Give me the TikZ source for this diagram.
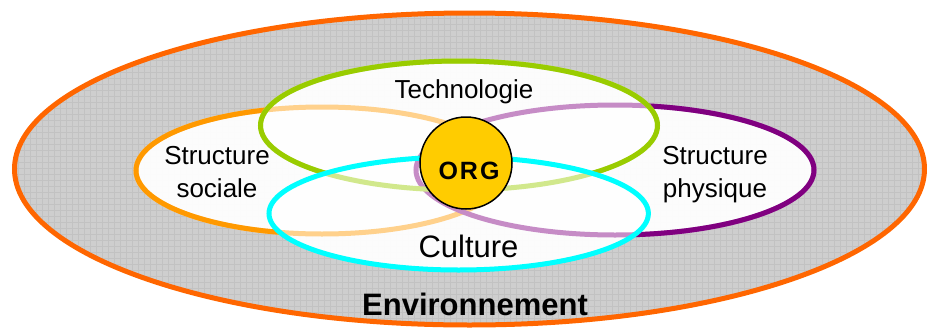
\documentclass[tikz,border=0pt]{standalone}
\usepackage{fontspec}
\setmainfont{Liberation Sans}
\definecolor{envorange}{RGB}{255,102,0}
\definecolor{socorange}{RGB}{255,153,0}
\definecolor{techgreen}{RGB}{153,204,0}
\definecolor{cultcyan}{RGB}{0,255,255}
\definecolor{physpurple}{RGB}{128,0,128}
\definecolor{orgyellow}{RGB}{255,204,0}
\definecolor{envgray}{RGB}{206,206,206}
\definecolor{gridgray}{RGB}{194,194,194}
\def\EnvE{(469.5,169) ellipse [x radius=455pt, y radius=156pt]}
\def\SocE{(322,170.5) ellipse [x radius=186pt, y radius=63.5pt]}
\def\PhyE{(615,170) ellipse [x radius=199pt, y radius=65pt]}
\def\TecE{(459,125.5) ellipse [x radius=198.5pt, y radius=64.5pt]}
\def\CulE{(458.7,213.5) ellipse [x radius=189.7pt, y radius=56.5pt]}
\def\BigRect{(-20,-20) rectangle (960,360)}
\tikzset{
  ring/.style={line width=5pt},
  innerfill/.style={fill=white, fill opacity=0.95},
  lbl/.style={font=\fontsize{26}{33}\selectfont, anchor=base, inner sep=0pt, align=center}
}
\begin{document}
\begin{tikzpicture}[x=1pt,y=-1pt]
\useasboundingbox (0,0) rectangle (927,327);
% environment
\fill[envgray] \EnvE;
\begin{scope}
  \clip \EnvE;
  \draw[gridgray, line width=0.5pt, step=6pt] (0,0) grid (930,330);
\end{scope}
\draw[envorange, ring] \EnvE;
% inner white fills
\fill[innerfill] \SocE;
\fill[innerfill] \PhyE;
\fill[innerfill] \TecE;
\fill[innerfill] \CulE;
% sociale line
\draw[ring, socorange!45!white] \SocE;
\begin{scope}[even odd rule]
  \clip \BigRect \PhyE;
  \clip \BigRect \TecE;
  \clip \BigRect \CulE;
  \draw[ring, socorange] \SocE;
\end{scope}
% physique line
\draw[ring, physpurple!45!white] \PhyE;
\begin{scope}[even odd rule]
  \clip \BigRect \TecE;
  \clip \BigRect \CulE;
  \draw[ring, physpurple] \PhyE;
\end{scope}
% technologie line
\draw[ring, techgreen!45!white] \TecE;
\begin{scope}[even odd rule]
  \clip \BigRect \CulE;
  \draw[ring, techgreen] \TecE;
\end{scope}
% culture line
\draw[ring, cultcyan] \CulE;
% ORG
\node[circle, draw=black, line width=1.5pt, fill=orgyellow, minimum size=92pt, inner sep=0pt] (org) at (466,163) {};
\node[font=\fontsize{25}{28}\selectfont\bfseries\addfontfeature{LetterSpace=8}, anchor=base, inner sep=0pt] (orgtxt) at (469,179) {ORG};
% labels
\node[lbl] (tech) at (464,98) {Technologie};
\node[lbl] (soc) at (217,197) {Structure\\sociale};
\node[lbl] (phys) at (715,197) {Structure\\physique};
\node[lbl, font=\fontsize{31}{36}\selectfont] (cult) at (468.5,257) {Culture};
\node[lbl, font=\fontsize{31}{36}\selectfont\bfseries] (env) at (475,315) {Environnement};
\end{tikzpicture}
\end{document}
